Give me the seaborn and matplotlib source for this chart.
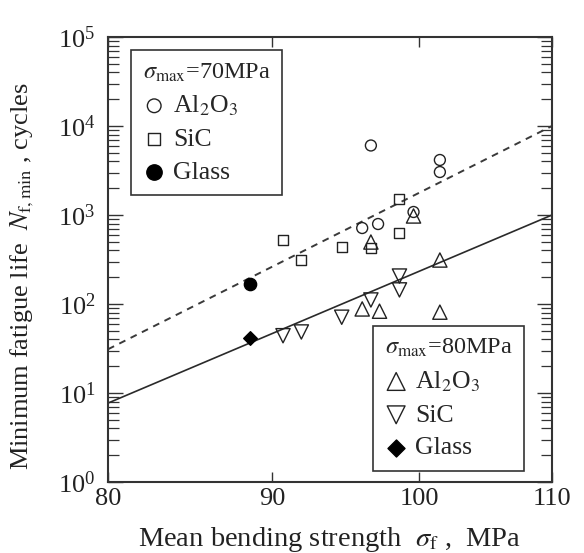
import matplotlib
matplotlib.use("Agg")
import matplotlib.pyplot as plt
import seaborn as sns
from matplotlib.ticker import FixedLocator, FixedFormatter, NullLocator, LogLocator

# Mean bending strength (MPa) and minimum fatigue life (cycles)
# sigma_max = 70 MPa
al2o3_70_strength = [96.0, 96.6, 97.1, 99.6, 101.5, 101.5]
al2o3_70_life = [714, 6040, 792, 1081, 4150, 3041]
sic_70_strength = [90.7, 91.9, 94.6, 96.6, 98.6, 98.6]
sic_70_life = [524, 312, 437, 426, 1513, 628]
glass_70_strength = [88.6]
glass_70_life = [166]

# sigma_max = 80 MPa
al2o3_80_strength = [96.0, 96.6, 97.2, 99.6, 101.5, 101.5]
al2o3_80_life = [88, 497, 83, 975, 312, 81]
sic_80_strength = [90.7, 91.9, 94.6, 96.6, 98.6, 98.6]
sic_80_life = [44, 48.5, 71, 111, 206, 144]
glass_80_strength = [88.6]
glass_80_life = [41.5]

# Power-law fits (straight on log-log axes)
fit_strength = [80, 110]
fit_70_life = [31, 10000]
fit_80_life = [7.7, 1000]

x_ticks = [80, 90, 100, 110]

sns.set_theme(style="ticks")
plt.rcParams["font.family"] = ["Liberation Serif", "DejaVu Serif"]
plt.rcParams["mathtext.fontset"] = "stix"

fig = plt.figure(figsize=(5.84, 5.53), dpi=100)
ax = fig.add_axes([108 / 584, 1 - 482 / 553, 444 / 584, 445 / 553])

sns.lineplot(x=fit_strength, y=fit_70_life, ax=ax, color="#3a3a3a", lw=1.4,
             linestyle=(0, (3.5, 3)), zorder=1)
sns.lineplot(x=fit_strength, y=fit_80_life, ax=ax, color="#2a2a2a", lw=1.2, zorder=1)

hollow = dict(facecolors="none", edgecolor="#222222", linewidth=1.0, zorder=3)
sns.scatterplot(x=al2o3_70_strength, y=al2o3_70_life, marker="o", s=62,
                ax=ax, label="Al$_2$O$_3$", **hollow)
sns.scatterplot(x=sic_70_strength, y=sic_70_life, marker="s", s=52, ax=ax,
                label="SiC", **hollow)
sns.scatterplot(x=glass_70_strength, y=glass_70_life, marker="o", s=78, ax=ax,
                color="black", edgecolor="black", linewidth=1.0, label="Glass", zorder=3)
sns.scatterplot(x=al2o3_80_strength, y=al2o3_80_life, marker="^", s=105, ax=ax,
                label="Al$_2$O$_3$", **hollow)
sns.scatterplot(x=sic_80_strength, y=sic_80_life, marker="v", s=105, ax=ax,
                label="SiC", **hollow)
sns.scatterplot(x=glass_80_strength, y=glass_80_life, marker="D", s=48, ax=ax,
                color="black", edgecolor="black", linewidth=1.0, label="Glass", zorder=3)

ax.set_xscale("log")
ax.set_yscale("log")
ax.set_xlim(80, 110)
ax.set_ylim(1, 1e5)

ax.xaxis.set_major_locator(FixedLocator(x_ticks))
ax.xaxis.set_major_formatter(FixedFormatter([str(t) for t in x_ticks]))
ax.xaxis.set_minor_locator(NullLocator())
ax.yaxis.set_major_locator(LogLocator(base=10, numticks=10))
ax.yaxis.set_minor_locator(LogLocator(base=10, subs=range(2, 10), numticks=20))

ax.tick_params(axis="both", which="both", direction="in", top=True, right=True,
               colors="#333333", labelcolor="#222222", labelsize=19)
ax.tick_params(axis="y", which="major", length=11, width=1.0, pad=9)
ax.tick_params(axis="y", which="minor", length=8, width=0.9)
ax.tick_params(axis="x", which="major", length=7, width=1.0, pad=4)
for sp in ax.spines.values():
    sp.set_color("#333333")
    sp.set_linewidth(1.5)

ax.set_xlabel(r"Mean bending strength  $\sigma_{\rm f}$ ,  MPa", fontsize=20.5,
              color="#222222", labelpad=11)
ax.set_ylabel(r"Minimum fatigue life  $N_{\rm f,min}$ , cycles", fontsize=19,
              color="#222222")
ax.yaxis.set_label_coords(-0.163, 0.462)

handles, labels = ax.get_legend_handles_labels()
leg_kw = dict(frameon=True, fancybox=False, framealpha=1, fontsize=18.5,
              title_fontsize=17.5, alignment="left", handlelength=0.9,
              handletextpad=0.3, labelspacing=0.38, borderpad=0.45,
              borderaxespad=0, markerscale=1.25, mode="expand")
box_w = 151 / 444
leg1 = ax.legend(handles[:3], labels[:3], title=r"$\sigma_{\rm max}$=70MPa",
                 loc="upper left", bbox_to_anchor=(0.052, 0.5, box_w, 0.471), **leg_kw)
leg1.get_frame().set_edgecolor("#333333")
leg1.get_frame().set_linewidth(1.2)
ax.add_artist(leg1)
leg2 = ax.legend(handles[3:], labels[3:], title=r"$\sigma_{\rm max}$=80MPa",
                 loc="lower right", bbox_to_anchor=(0.937 - box_w, 0.025, box_w, 0.4),
                 **leg_kw)
leg2.get_frame().set_edgecolor("#333333")
leg2.get_frame().set_linewidth(1.2)

fig.savefig("out.png", dpi=100)
